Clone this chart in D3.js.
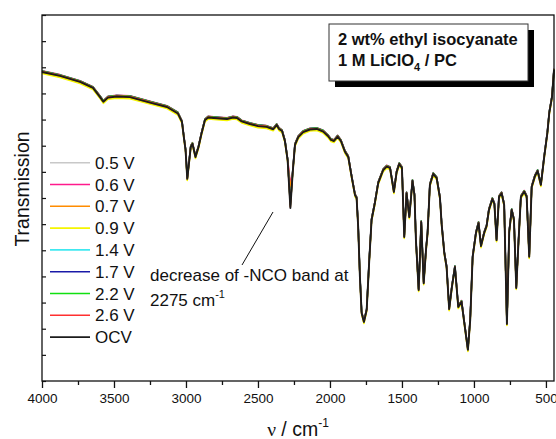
<!DOCTYPE html>
<html>
<head>
<meta charset="utf-8">
<script src="https://cdnjs.cloudflare.com/ajax/libs/d3/7.8.5/d3.min.js"></script>
<style>
  body { margin: 0; background: #fff; }
  text { font-family: "Liberation Sans", Arial, sans-serif; fill: #111; }
</style>
</head>
<body>
<div class="spectrum"></div>
<script>
const wavenumbers = [4000, 3875, 3736, 3646, 3597, 3574, 3542, 3481, 3389, 3250, 3132, 3056, 3028, 3014, 3003, 2991,
  2967, 2955, 2934, 2913, 2891, 2868, 2845, 2806, 2764, 2715, 2674, 2646, 2613, 2556, 2500, 2440, 2394, 2370, 2354,
  2333, 2313, 2294, 2275, 2259, 2243, 2220, 2186, 2139, 2092, 2047, 2014, 1993, 1972, 1947, 1924, 1896, 1873, 1849,
  1826, 1815, 1804, 1792, 1780, 1764, 1745, 1727, 1711, 1688, 1665, 1630, 1606, 1583, 1556, 1537, 1519, 1500, 1484,
  1468, 1449, 1427, 1413, 1403, 1384, 1366, 1349, 1333, 1322, 1306, 1283, 1259, 1236, 1224, 1206, 1190, 1172, 1153,
  1132, 1109, 1086, 1067, 1042, 1026, 1009, 986, 968, 951, 929, 912, 896, 872, 858, 843, 826, 808, 790, 771, 755,
  738, 722, 706, 691, 674, 651, 634, 616, 599, 576, 558, 535, 512, 490, 477, 458, 444];

// OCV trace (transmission, arbitrary units)
const ocv = [1.182, 1.167, 1.144, 1.121, 1.086, 1.068, 1.084, 1.088, 1.086, 1.065, 1.048, 1.023, 0.991, 0.929, 0.884, 0.773,
  0.895, 0.907, 0.857, 0.895, 0.949, 0.998, 1.008, 1.006, 1.004, 1.002, 1.008, 1.006, 0.993, 0.983, 0.975, 0.972, 0.963, 0.979, 0.964,
  0.956, 0.918, 0.845, 0.662, 0.796, 0.903, 0.933, 0.952, 0.962, 0.964, 0.954, 0.937, 0.922, 0.918, 0.935, 0.918, 0.877, 0.857, 0.780,
  0.711, 0.700, 0.589, 0.399, 0.260, 0.226, 0.272, 0.463, 0.616, 0.681, 0.757, 0.807, 0.820, 0.815, 0.723, 0.799, 0.830, 0.815, 0.551,
  0.718, 0.627, 0.765, 0.711, 0.539, 0.348, 0.608, 0.374, 0.501, 0.566, 0.750, 0.792, 0.776, 0.700, 0.597, 0.490, 0.436, 0.275, 0.360,
  0.436, 0.283, 0.303, 0.222, 0.119, 0.233, 0.474, 0.566, 0.604, 0.516, 0.566, 0.593, 0.654, 0.696, 0.677, 0.539, 0.704, 0.718, 0.673, 0.218, 0.570,
  0.654, 0.616, 0.356, 0.528, 0.704, 0.724, 0.705, 0.475, 0.742, 0.784, 0.803, 0.750, 0.857, 0.949, 1.025, 1.086, 1.190];

const seriesNames = ["0.5 V", "0.6 V", "0.7 V", "0.9 V", "1.4 V", "1.7 V", "2.2 V", "2.6 V", "OCV"];
const seriesColors = ["#c8c8c8", "#ff1a8c", "#ff8c00", "#f5f500", "#40e8f0", "#1a1aa8", "#10e010", "#ff3030", "#1c1c1c"];
// how far each trace sits from the OCV trace
const seriesOffsets = [0.002, 0.005, -0.003, -0.006, 0.003, 0.004, 0.004, 0.002, 0];
// depth of the -NCO band at 2275 cm-1 for each trace
const ncoBand = [0.755, 0.75, 0.74, 0.68, 0.676, 0.672, 0.668, 0.665, 0.662];

const xTicks = [4000, 3500, 3000, 2500, 2000, 1500, 1000, 500];
const xMinorTicks = [3750, 3250, 2750, 2250, 1750, 1250, 750];
const yTicks = d3.range(0, 1.41, 0.1);

const w = 556;
const h = 439;
const margin = { top: 15, right: 2, bottom: 58, left: 42 };
const width = w - margin.left - margin.right;
const height = h - margin.top - margin.bottom;

const x = d3.scaleLinear().domain([4000, 444]).range([0, width]);
const y = d3.scaleLinear().domain([0, 1.4]).range([height, 0]);

const svg = d3.select(".spectrum").append("svg")
  .attr("width", w)
  .attr("height", h);

const chart = svg.append("g")
  .attr("transform", "translate(" + margin.left + "," + margin.top + ")");

// build each trace from the OCV readings
const traces = seriesNames.map((name, k) => ({
  name: name,
  color: seriesColors[k],
  values: wavenumbers.map((wn, i) => ({
    wn: wn,
    t: wn === 2275 ? ncoBand[k] : ocv[i] + seriesOffsets[k]
  }))
}));

const line = d3.line()
  .x(d => x(d.wn))
  .y(d => y(d.t));

chart.selectAll(".trace")
  .data(traces)
  .enter()
    .append("path")
    .classed("trace", true)
    .attr("d", d => line(d.values))
    .attr("fill", "none")
    .attr("stroke", d => d.color)
    .attr("stroke-width", d => d.name === "OCV" ? 1.9 : 1.5)
    .attr("stroke-linejoin", "round");

// frame
chart.append("rect")
  .attr("width", width)
  .attr("height", height)
  .attr("fill", "none")
  .attr("stroke", "#111")
  .attr("stroke-width", 1.3);

// bottom axis, major + minor ticks
const xAxis = chart.append("g")
  .attr("transform", "translate(0," + height + ")")
  .call(d3.axisBottom(x).tickValues(xTicks).tickSize(7).tickPadding(5).tickFormat(d3.format("d")));
xAxis.select(".domain").remove();
xAxis.selectAll("line").attr("stroke", "#111").attr("stroke-width", 1.3);
xAxis.selectAll("text")
  .attr("font-size", 13.5)
  .attr("font-family", "Liberation Sans, Arial, sans-serif")
  .attr("fill", "#111");

const xMinor = chart.append("g")
  .attr("transform", "translate(0," + height + ")")
  .call(d3.axisBottom(x).tickValues(xMinorTicks).tickSize(4).tickFormat(""));
xMinor.select(".domain").remove();
xMinor.selectAll("line").attr("stroke", "#111").attr("stroke-width", 1.3);

// left axis, ticks inside, no labels
const yAxis = chart.append("g")
  .call(d3.axisLeft(y).tickValues(yTicks).tickSize(-4).tickFormat(""));
yAxis.select(".domain").remove();
yAxis.selectAll("line").attr("stroke", "#111").attr("stroke-width", 1.2);

// axis titles
svg.append("text")
  .attr("transform", "translate(29," + (margin.top + 174) + ") rotate(-90)")
  .style("text-anchor", "middle")
  .attr("font-size", 19.5)
  .text("Transmission");

const xTitle = svg.append("text")
  .attr("x", margin.left + width / 2)
  .attr("y", 436)
  .style("text-anchor", "middle")
  .attr("font-size", 19.5);
xTitle.append("tspan").attr("font-family", "Liberation Serif, Times New Roman, serif").text("ν");
xTitle.append("tspan").text(" / cm");
xTitle.append("tspan").attr("font-size", 12).attr("dy", -9).text("-1");

// legend
const legend = svg.selectAll(".legend")
  .data(traces)
  .enter()
    .append("g")
    .classed("legend", true)
    .attr("transform", (d, i) => "translate(50," + (162.7 + i * 21.8) + ")");

legend.append("line")
  .attr("x1", 0)
  .attr("x2", 40)
  .attr("stroke", d => d.color)
  .attr("stroke-width", 1.6);

legend.append("text")
  .attr("x", 45)
  .attr("y", 6)
  .attr("font-size", 17)
  .text(d => d.name);

// info box with shadow
svg.append("rect")
  .attr("x", 335).attr("y", 30)
  .attr("width", 199).attr("height", 57)
  .attr("fill", "#000");
svg.append("rect")
  .attr("x", 329).attr("y", 24)
  .attr("width", 199).attr("height", 57)
  .attr("fill", "#fff")
  .attr("stroke", "#333")
  .attr("stroke-width", 1);
svg.append("text")
  .attr("x", 338).attr("y", 45)
  .attr("font-size", 16.5)
  .attr("font-weight", "bold")
  .text("2 wt% ethyl isocyanate");
const boxLine2 = svg.append("text")
  .attr("x", 338).attr("y", 66)
  .attr("font-size", 16.5)
  .attr("font-weight", "bold");
boxLine2.append("tspan").text("1 M LiClO");
boxLine2.append("tspan").attr("font-size", 11).attr("dy", 5).text("4");
boxLine2.append("tspan").attr("dy", -5).text(" / PC");

// annotation for the -NCO band
svg.append("line")
  .attr("x1", 273).attr("y1", 212)
  .attr("x2", 242).attr("y2", 265)
  .attr("stroke", "#111")
  .attr("stroke-width", 1);
svg.append("text")
  .attr("x", 150).attr("y", 281)
  .attr("font-size", 17)
  .text("decrease of -NCO band at");
const noteLine2 = svg.append("text")
  .attr("x", 150).attr("y", 306)
  .attr("font-size", 17);
noteLine2.append("tspan").text("2275 cm");
noteLine2.append("tspan").attr("font-size", 11).attr("dy", -8).text("-1");
</script>
</body>
</html>
